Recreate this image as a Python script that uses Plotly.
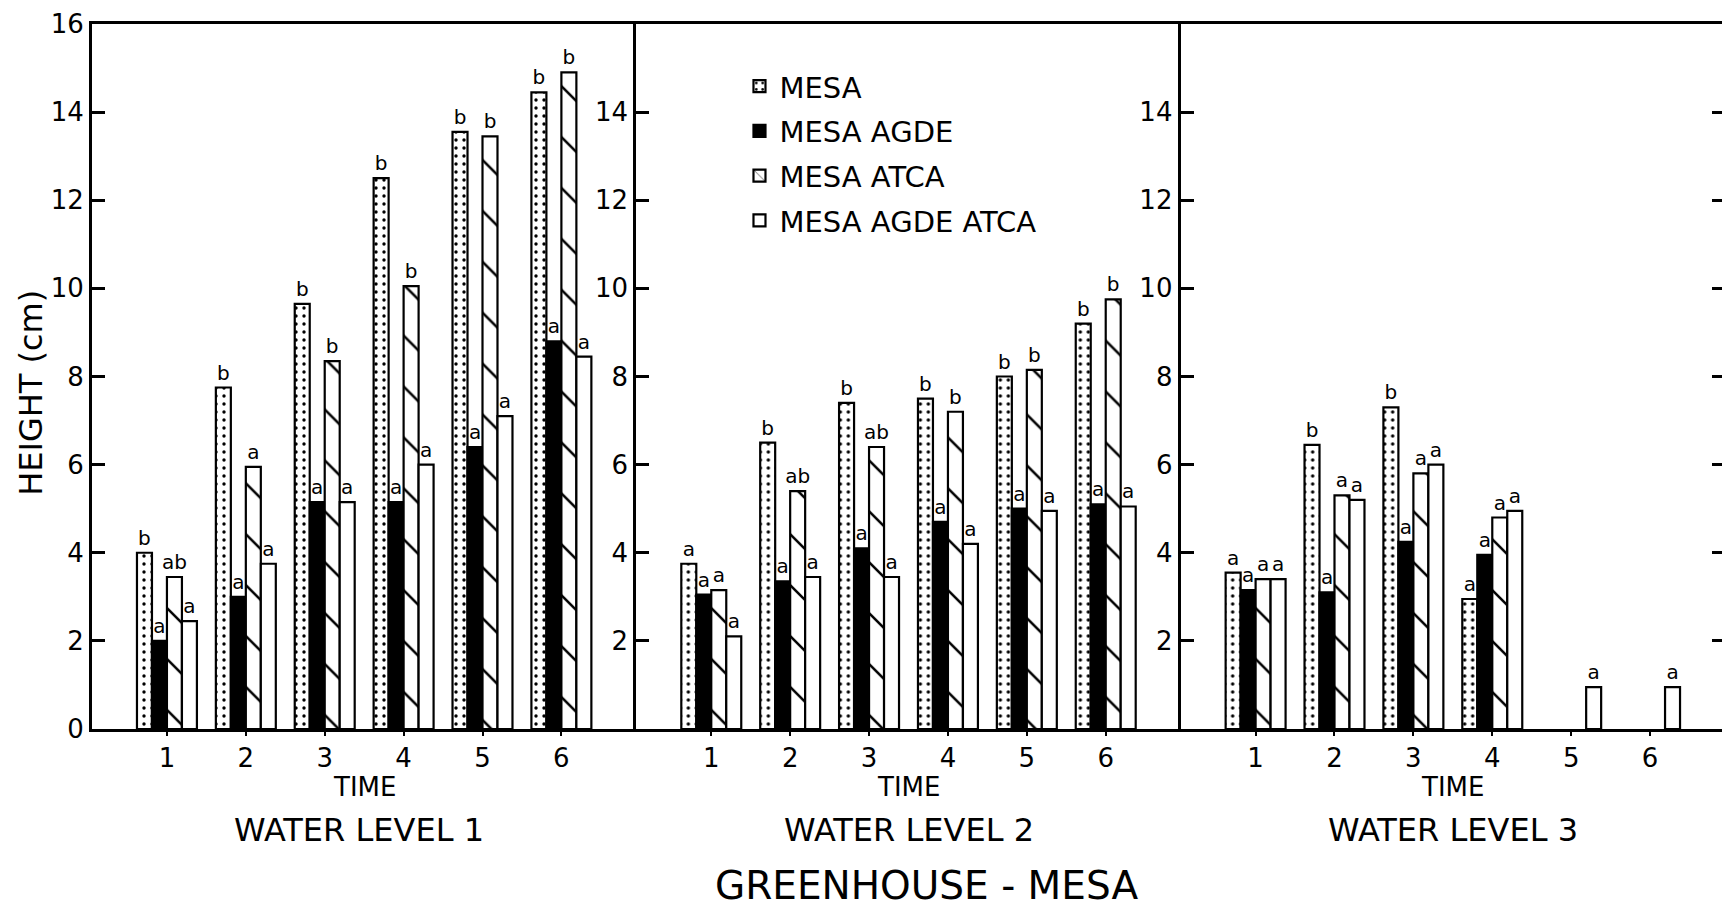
import plotly.graph_objects as go
from plotly.subplots import make_subplots

# ---------------- data ----------------
times = [1, 2, 3, 4, 5, 6]
series_names = ["MESA", "MESA AGDE", "MESA ATCA", "MESA AGDE ATCA"]
panel_titles = ["WATER LEVEL 1", "WATER LEVEL 2", "WATER LEVEL 3"]

# Water level 1
wl1_mesa = [4.0, 7.75, 9.65, 12.5, 13.55, 14.45]
wl1_agde = [2.0, 3.0, 5.15, 5.15, 6.4, 8.8]
wl1_atca = [3.45, 5.95, 8.35, 10.05, 13.45, 14.9]
wl1_agde_atca = [2.45, 3.75, 5.15, 6.0, 7.1, 8.45]
wl1_letters_mesa = ["b", "b", "b", "b", "b", "b"]
wl1_letters_agde = ["a", "a", "a", "a", "a", "a"]
wl1_letters_atca = ["ab", "a", "b", "b", "b", "b"]
wl1_letters_agde_atca = ["a", "a", "a", "a", "a", "a"]

# Water level 2
wl2_mesa = [3.75, 6.5, 7.4, 7.5, 8.0, 9.2]
wl2_agde = [3.05, 3.35, 4.1, 4.7, 5.0, 5.1]
wl2_atca = [3.15, 5.4, 6.4, 7.2, 8.15, 9.75]
wl2_agde_atca = [2.1, 3.45, 3.45, 4.2, 4.95, 5.05]
wl2_letters_mesa = ["a", "b", "b", "b", "b", "b"]
wl2_letters_agde = ["a", "a", "a", "a", "a", "a"]
wl2_letters_atca = ["a", "ab", "ab", "b", "b", "b"]
wl2_letters_agde_atca = ["a", "a", "a", "a", "a", "a"]

# Water level 3
wl3_mesa = [3.55, 6.45, 7.3, 2.95, None, None]
wl3_agde = [3.15, 3.1, 4.25, 3.95, None, None]
wl3_atca = [3.4, 5.3, 5.8, 4.8, None, None]
wl3_agde_atca = [3.4, 5.2, 6.0, 4.95, 0.95, 0.95]
wl3_letters_mesa = ["a", "b", "b", "a", "", ""]
wl3_letters_agde = ["a", "a", "a", "a", "", ""]
wl3_letters_atca = ["a", "a", "a", "a", "", ""]
wl3_letters_agde_atca = ["a", "a", "a", "a", "a", "a"]

y_ticks_first = [0, 2, 4, 6, 8, 10, 12, 14, 16]
y_ticks_other = [2, 4, 6, 8, 10, 12, 14]

panels = [
    ([wl1_mesa, wl1_agde, wl1_atca, wl1_agde_atca],
     [wl1_letters_mesa, wl1_letters_agde, wl1_letters_atca, wl1_letters_agde_atca]),
    ([wl2_mesa, wl2_agde, wl2_atca, wl2_agde_atca],
     [wl2_letters_mesa, wl2_letters_agde, wl2_letters_atca, wl2_letters_agde_atca]),
    ([wl3_mesa, wl3_agde, wl3_atca, wl3_agde_atca],
     [wl3_letters_mesa, wl3_letters_agde, wl3_letters_atca, wl3_letters_agde_atca]),
]

# ---------------- styles ----------------
FONT = "DejaVu Sans"
styles = [
    dict(color="white", pattern=dict(shape=".", size=8, solidity=0.14,
                                     fgcolor="black", bgcolor="white", fillmode="replace")),
    dict(color="black"),
    dict(color="white", pattern=dict(shape="\\", size=36, solidity=0.07,
                                     fgcolor="black", bgcolor="white", fillmode="replace")),
    dict(color="white"),
]

fig = make_subplots(rows=1, cols=3, shared_yaxes=False, horizontal_spacing=0)

for p, (vals, lets) in enumerate(panels):
    for s in range(4):
        marker = dict(styles[s])
        marker["line"] = dict(color="black", width=2.2)
        fig.add_trace(
            go.Bar(
                x=times, y=vals[s], name=series_names[s],
                marker=marker,
                text=lets[s], textposition="outside", textangle=0,
                constraintext="none", cliponaxis=False,
                textfont=dict(family=FONT, size=20, color="black"),
                showlegend=(p == 0), legendgroup=series_names[s],
            ),
            row=1, col=p + 1,
        )

for p in range(3):
    fig.update_xaxes(
        row=1, col=p + 1, range=[0.05, 6.95], tickvals=times,
        ticktext=[str(t) for t in times],
        showline=True, linecolor="black", linewidth=3, mirror=True,
        ticks="outside", ticklen=4, tickwidth=1.5, tickcolor="black",
        tickfont=dict(family=FONT, size=26, color="black"),
        showgrid=False, zeroline=False, ticklabeloverflow="allow",
    )
    tv = y_ticks_first if p == 0 else y_ticks_other
    fig.update_yaxes(
        row=1, col=p + 1, range=[0, 16], tickvals=tv,
        ticktext=[str(v) for v in tv],
        showline=True, linecolor="black", linewidth=3,
        mirror=("ticks" if p == 2 else False),
        ticks="inside", ticklen=13, tickwidth=2.5, tickcolor="black",
        tickfont=dict(family=FONT, size=26, color="black"),
        showgrid=False, zeroline=False, ticklabeloverflow="allow",
    )

ann = []
centers = [1 / 6, 0.5, 5 / 6]
for p in range(3):
    ann.append(dict(text="TIME", x=centers[p], y=-0.082, xref="paper", yref="paper",
                    xanchor="center", yanchor="middle", showarrow=False,
                    font=dict(family=FONT, size=26, color="black")))
    ann.append(dict(text=panel_titles[p], x=centers[p] - (0.003 if p == 0 else 0), y=-0.143,
                    xref="paper", yref="paper", xanchor="center", yanchor="middle",
                    showarrow=False, font=dict(family=FONT, size=32, color="black")))
ann.append(dict(text="GREENHOUSE - MESA", x=0.511, y=-0.2225, xref="paper", yref="paper",
                xanchor="center", yanchor="middle", showarrow=False,
                font=dict(family=FONT, size=39, color="black")))
ann.append(dict(text="HEIGHT (cm)", x=-0.0373, y=0.477, xref="paper", yref="paper",
                xanchor="center", yanchor="middle", textangle=-90, showarrow=False,
                font=dict(family=FONT, size=32, color="black")))

# The page body has an 8px margin, so the figure is sized to fit the window.
fig.update_layout(
    width=1721, height=900,
    margin=dict(l=84, r=1, t=14, b=179),
    paper_bgcolor="white", plot_bgcolor="white",
    barmode="group", bargap=0.24, bargroupgap=0,
    font=dict(family=FONT, color="black"),
    annotations=ann,
    legend=dict(x=0.3965, y=0.9477, xanchor="left", yanchor="top",
                bgcolor="rgba(0,0,0,0)", tracegroupgap=4,
                font=dict(family=FONT, size=29, color="black"),
                itemwidth=30),
)

fig.write_html("out.html")
